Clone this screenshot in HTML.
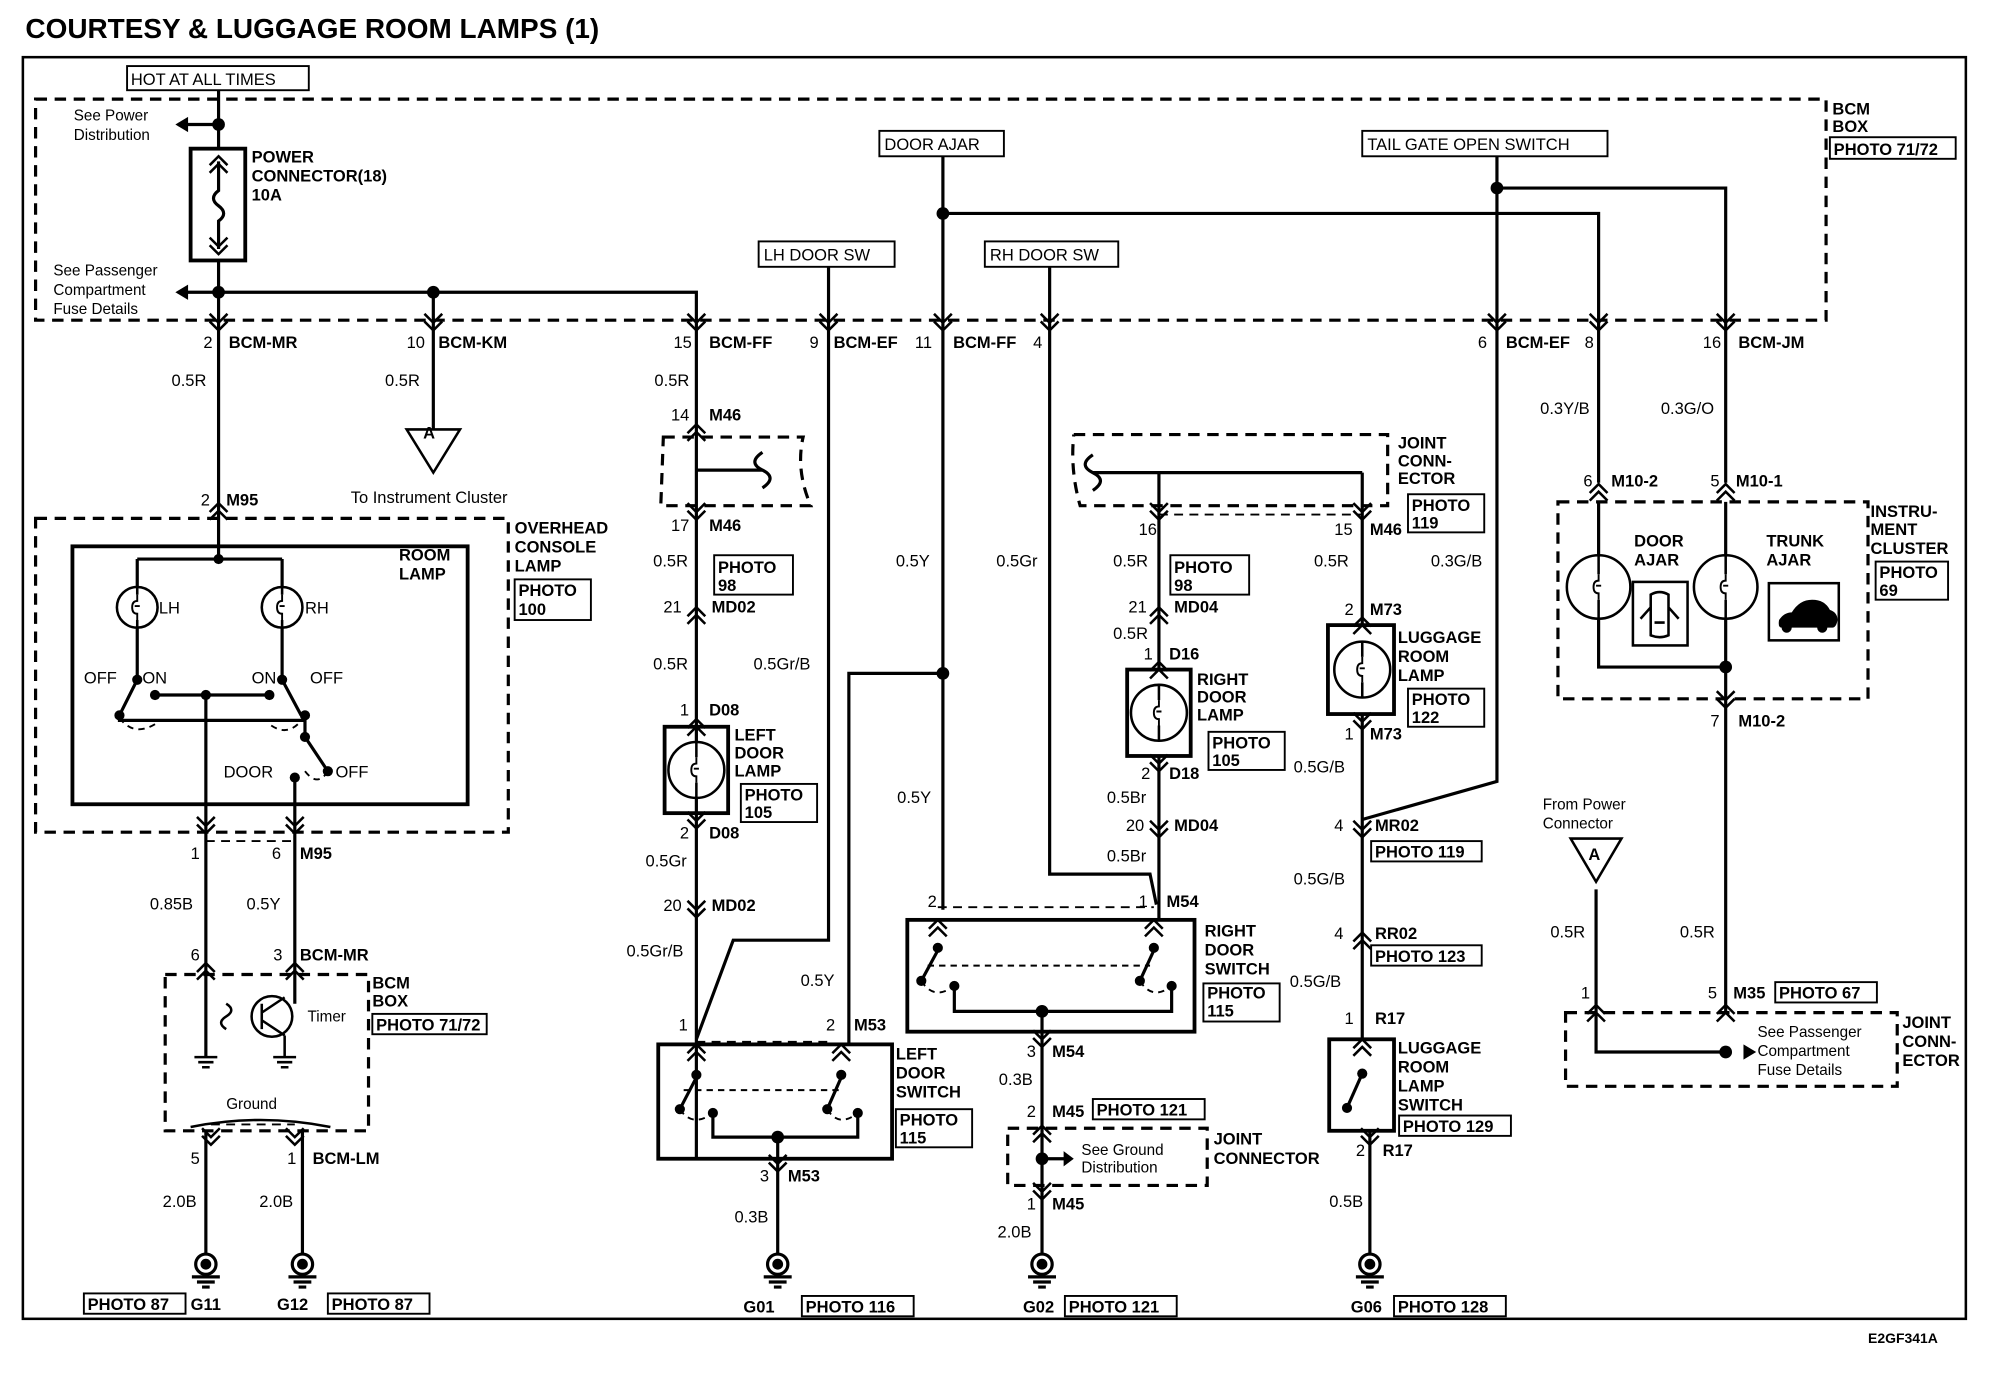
<!DOCTYPE html>
<html><head><meta charset="utf-8"><style>
html,body{margin:0;padding:0;background:#fff}
svg{display:block}
text{font-family:"Liberation Sans",Arial,sans-serif;fill:#000}
.b{font-weight:bold;font-size:13px}
.n{font-size:13px}
</style></head><body>
<svg width="1990" height="1376" viewBox="0 0 1566 1083" preserveAspectRatio="none" xmlns="http://www.w3.org/2000/svg">
<defs>
<g id="cd" fill="none" stroke="#000" stroke-width="2"><path d="M-7,-9 L0,-2 L7,-9 M-7,-3 L0,4 L7,-3"/></g>
<g id="cu" fill="none" stroke="#000" stroke-width="2"><path d="M-7,9 L0,2 L7,9 M-7,3 L0,-4 L7,3"/></g>
<g id="gnd" fill="none" stroke="#000" stroke-width="2.5"><circle cx="0" cy="0" r="8"/><circle cx="0" cy="0" r="3" fill="#000"/><path d="M-11,10 H11 M-7,14 H7 M-3,18 H3"/></g>
<g id="sg" fill="none" stroke="#000" stroke-width="2"><path d="M-9,0 H9 M-6,4 H6 M-3,8 H3"/></g>
<g id="fil" fill="none" stroke="#000" stroke-width="1.5"><path d="M0,-10 V-5 q-4,0 -4,5 q0,5 4,5 V10 M-2,-1 h4"/></g>
</defs>
<text x="20" y="30" font-size="22" font-weight="bold">COURTESY &amp; LUGGAGE ROOM LAMPS (1)</text>
<rect x="18" y="45" width="1529" height="993" fill="none" stroke="#000" stroke-width="2"/>
<text x="1470" y="1057" font-size="11" font-weight="bold">E2GF341A</text>

<g fill="none" stroke="#000" stroke-width="2.5" stroke-dasharray="9,6">
<path d="M28,78 H1437 V252 H28 Z"/>
<rect x="28" y="408" width="372" height="247"/>
<rect x="130" y="767" width="160" height="123"/>
<path d="M522,344 H632 Q626,370 638,398 H520 Z"/>
<path d="M845,342 H1092 V398 H850 Q842,370 845,342"/>
<rect x="1226" y="395" width="244" height="155"/>
<rect x="1232" y="797" width="261" height="58"/>
<rect x="793" y="888" width="157" height="45"/>
</g>
<g fill="none" stroke="#000" stroke-width="1.5" stroke-dasharray="7,5">
<path d="M162,662 H232 M548,820 H652 M738,714 H908 M912,405 H1072 M166,885 H232"/>
</g>
<g fill="none" stroke="#000" stroke-width="1.5">
<rect x="100" y="52" width="143" height="19"/>
<rect x="692" y="103" width="98" height="20"/>
<rect x="1072" y="103" width="193" height="20"/>
<rect x="597" y="190" width="107" height="20"/>
<rect x="775" y="190" width="105" height="20"/>
<rect x="1440" y="108" width="99" height="17"/>
<rect x="405" y="456" width="60" height="32"/>
<rect x="562" y="437" width="62" height="31"/>
<rect x="583" y="617" width="60" height="30"/>
<rect x="921" y="437" width="62" height="31"/>
<rect x="951" y="576" width="60" height="30"/>
<rect x="1108" y="389" width="60" height="30"/>
<rect x="1108" y="542" width="60" height="30"/>
<rect x="1476" y="442" width="57" height="30"/>
<rect x="1079" y="662" width="87" height="16"/>
<rect x="1079" y="744" width="87" height="16"/>
<rect x="1397" y="773" width="80" height="16"/>
<rect x="293" y="798" width="90" height="16"/>
<rect x="860" y="865" width="88" height="16"/>
<rect x="705" y="873" width="60" height="30"/>
<rect x="947" y="774" width="60" height="30"/>
<rect x="1101" y="878" width="88" height="16"/>
<rect x="66" y="1018" width="80" height="16"/>
<rect x="258" y="1018" width="80" height="16"/>
<rect x="631" y="1020" width="88" height="16"/>
<rect x="838" y="1020" width="88" height="16"/>
<rect x="1097" y="1020" width="88" height="16"/>
</g>
<g fill="none" stroke="#000" stroke-width="3">
<rect x="150" y="117" width="43" height="88"/>
<rect x="57" y="430" width="311" height="203"/>
<rect x="523" y="572" width="50" height="68"/>
<rect x="887" y="527" width="50" height="68"/>
<rect x="1045" y="492" width="52" height="70"/>
<rect x="518" y="822" width="184" height="90"/>
<rect x="714" y="724" width="226" height="88"/>
<rect x="1046" y="818" width="51" height="72"/>
<rect x="1285" y="458" width="43" height="50" stroke-width="2"/>
<rect x="1392" y="459" width="55" height="45" stroke-width="2"/>
</g>
<g fill="none" stroke="#000" stroke-width="2.5">
<path d="M172,71 V117 M172,205 V430 M140,98 H172 M140,230 H548 V822 M341,230 V338"/>
<path d="M172,127 V150 q-8,6 0,12 q8,6 0,12 V196"/>
<path d="M548,370 H600 M600,356 q-12,8 0,14 q12,6 0,14"/>
<path d="M860,358 q-12,8 0,14 q12,6 0,14 M860,372 H1072"/>
<path d="M172,430 V440 M108,440 H222 M108,440 V535 L94,563 M222,440 V535 L237,563 M122,547 H212 M162,547 V660 M94,563 V567 H240 V563 M240,567 V580 L258,607 M232,612 V660"/>
<path d="M162,660 V767 M232,660 V767 M162,767 V832 M232,767 V790 M162,890 V987 M238,890 V987"/>
<path d="M652,210 V740 H577 L548,818 M668,822 V530 H742 M742,123 V716 M742,168 H1258 V380 M1178,123 V148 H1358 V380 M1178,148 V615 L1072,645"/>
<path d="M826,210 V688 H905 L910,712 M912,372 V527 M1072,372 V492"/>
<path d="M912,595 V724"/>
<path d="M548,912 V822 M612,912 V987 M820,812 V987 M1072,562 V818 M1078,890 V987"/>
<path d="M1258,395 V525 H1358 M1358,395 V797 M1256,700 V828 H1358"/>
<path d="M548,848 L535,873 M662,848 L651,873 M561,876 V895 H675 V876 M612,895 V912"/>
<path d="M738,748 L725,772 M908,748 L897,772 M751,776 V796 H922 V776 M820,796 V812"/>
<path d="M1072,845 L1060,872"/>
<path d="M820,912 H842"/>
</g>
<g fill="none" stroke="#000" stroke-width="1.5" stroke-dasharray="5,4">
<path d="M94,565 Q105,580 122,570 M240,563 Q228,582 212,570 M240,607 Q250,620 258,607 M535,873 Q545,888 561,876 M651,873 Q660,888 675,876 M725,772 Q735,788 751,776 M897,772 Q907,788 922,776 M538,858 H660 M730,760 H905"/>
</g>
<g fill="#fff" stroke="#000" stroke-width="2">
<circle cx="108" cy="478" r="16"/><circle cx="222" cy="478" r="16"/>
<circle cx="548" cy="606" r="22"/><circle cx="912" cy="561" r="22"/><circle cx="1072" cy="527" r="22"/>
<circle cx="1258" cy="462" r="25"/><circle cx="1358" cy="462" r="25"/>
</g>
<use href="#fil" x="108" y="478"/><use href="#fil" x="222" y="478"/><use href="#fil" x="548" y="606"/><use href="#fil" x="912" y="561"/><use href="#fil" x="1072" y="527"/><use href="#fil" x="1258" y="462"/><use href="#fil" x="1358" y="462"/>
<g fill="none" stroke="#000" stroke-width="2">
<path d="M548,584 V596 M548,616 V628 M912,539 V551 M912,571 V583 M1072,505 V517 M1072,537 V549 M108,462 V468 M108,488 V494 M222,462 V468 M222,488 V494 M1258,437 V452 M1258,472 V487 M1358,437 V452 M1358,472 V487"/>
<circle cx="214" cy="800" r="16"/>
<path d="M178,790 q8,5 0,10 q-8,5 0,10 M206,790 V810 M206,797 L224,785 M206,803 L224,815 M224,815 V832"/>
<path d="M150,887 Q205,876 260,887"/>
<path d="M320,338 H362 L341,372 Z M1236,660 H1276 L1256,694 Z"/>
</g>
<g fill="#000">
<circle cx="172" cy="98" r="5"/><circle cx="172" cy="230" r="5"/><circle cx="341" cy="230" r="5"/>
<circle cx="742" cy="168" r="5"/><circle cx="1178" cy="148" r="5"/><circle cx="742" cy="530" r="5"/>
<circle cx="172" cy="440" r="4"/><circle cx="108" cy="535" r="4"/><circle cx="222" cy="535" r="4"/><circle cx="94" cy="563" r="4"/><circle cx="122" cy="547" r="4"/><circle cx="162" cy="547" r="4"/><circle cx="212" cy="547" r="4"/><circle cx="240" cy="563" r="4"/><circle cx="240" cy="580" r="4"/><circle cx="258" cy="607" r="4"/><circle cx="232" cy="612" r="4"/>
<circle cx="548" cy="846" r="4"/><circle cx="662" cy="846" r="4"/><circle cx="535" cy="873" r="4"/><circle cx="561" cy="876" r="4"/><circle cx="651" cy="873" r="4"/><circle cx="675" cy="876" r="4"/><circle cx="612" cy="895" r="5"/>
<circle cx="738" cy="746" r="4"/><circle cx="908" cy="746" r="4"/><circle cx="725" cy="772" r="4"/><circle cx="751" cy="776" r="4"/><circle cx="897" cy="772" r="4"/><circle cx="922" cy="776" r="4"/><circle cx="820" cy="796" r="5"/>
<circle cx="1072" cy="845" r="4"/><circle cx="1060" cy="872" r="4"/><circle cx="1358" cy="525" r="5"/><circle cx="1358" cy="828" r="5"/><circle cx="820" cy="912" r="5"/>
<path d="M138,98 l10,-6 v12 Z M138,230 l10,-6 v12 Z M1382,828 l-10,-6 v12 Z M845,912 l-8,-6 v12 Z"/>
<path d="M1400,488 q4,-6 10,-6 q6,-10 16,-10 q10,0 14,8 q6,2 6,8 q-1,6 -4,6 h-4 a4,4 0 0 1 -8,0 h-20 a4,4 0 0 1 -8,0 q-3,0 -2,-6Z"/>
</g>
<path d="M1299,468 q7,-4 14,0 v32 q-7,3 -14,0 Z M1299,478 l-8,9 M1313,478 l8,9 M1302,490 h8" fill="none" stroke="#000" stroke-width="2"/>
<use href="#sg" x="162" y="832"/><use href="#sg" x="224" y="832"/>
<g>
<use href="#cu" x="172" y="127"/><use href="#cd" x="172" y="196"/>
<use href="#cd" x="172" y="256"/><use href="#cd" x="341" y="256"/><use href="#cd" x="548" y="256"/><use href="#cd" x="652" y="256"/><use href="#cd" x="742" y="256"/><use href="#cd" x="826" y="256"/><use href="#cd" x="1178" y="256"/><use href="#cd" x="1258" y="256"/><use href="#cd" x="1358" y="256"/>
<use href="#cu" x="172" y="400"/><use href="#cd" x="162" y="652"/><use href="#cd" x="232" y="652"/><use href="#cu" x="162" y="762"/><use href="#cu" x="232" y="762"/>
<use href="#cd" x="166" y="897"/><use href="#cd" x="232" y="897"/>
<use href="#cu" x="548" y="338"/><use href="#cd" x="548" y="405"/><use href="#cu" x="548" y="482"/><use href="#cu" x="548" y="570"/><use href="#cd" x="548" y="648"/><use href="#cd" x="548" y="718"/><use href="#cu" x="548" y="826"/><use href="#cu" x="662" y="826"/><use href="#cd" x="612" y="918"/>
<use href="#cd" x="912" y="405"/><use href="#cd" x="1072" y="405"/><use href="#cu" x="912" y="482"/><use href="#cu" x="912" y="525"/><use href="#cd" x="912" y="603"/><use href="#cd" x="912" y="655"/><use href="#cu" x="738" y="728"/><use href="#cu" x="908" y="728"/><use href="#cd" x="820" y="820"/><use href="#cu" x="820" y="890"/><use href="#cd" x="820" y="940"/>
<use href="#cu" x="1072" y="490"/><use href="#cd" x="1072" y="570"/><use href="#cd" x="1072" y="655"/><use href="#cu" x="1072" y="738"/><use href="#cu" x="1072" y="822"/><use href="#cd" x="1078" y="897"/>
<use href="#cu" x="1258" y="385"/><use href="#cu" x="1358" y="385"/><use href="#cd" x="1358" y="553"/><use href="#cu" x="1256" y="795"/><use href="#cu" x="1358" y="795"/>
</g>
<use href="#gnd" x="162" y="995"/><use href="#gnd" x="238" y="995"/><use href="#gnd" x="612" y="995"/><use href="#gnd" x="820" y="995"/><use href="#gnd" x="1078" y="995"/>
<g class="n">
<text x="103" y="67">HOT AT ALL TIMES</text>
<text x="696" y="118">DOOR AJAR</text>
<text x="1076" y="118">TAIL GATE OPEN SWITCH</text>
<text x="601" y="205">LH DOOR SW</text>
<text x="779" y="205">RH DOOR SW</text>
<text x="58" y="95" font-size="12">See Power</text><text x="58" y="110" font-size="12">Distribution</text>
<text x="42" y="217" font-size="12">See Passenger</text><text x="42" y="232" font-size="12">Compartment</text><text x="42" y="247" font-size="12">Fuse Details</text>
<text x="276" y="396">To Instrument Cluster</text>
<text x="1214" y="637" font-size="12">From Power</text><text x="1214" y="652" font-size="12">Connector</text>
<text x="1383" y="816" font-size="12">See Passenger</text><text x="1383" y="831" font-size="12">Compartment</text><text x="1383" y="846" font-size="12">Fuse Details</text>
<text x="851" y="909" font-size="12">See Ground</text><text x="851" y="923" font-size="12">Distribution</text>
<text x="242" y="804" font-size="12">Timer</text><text x="178" y="873" font-size="12">Ground</text>
<text x="125" y="483">LH</text><text x="240" y="483">RH</text>
<text x="66" y="538">OFF</text><text x="112" y="538">ON</text><text x="198" y="538">ON</text><text x="244" y="538">OFF</text>
<text x="176" y="612">DOOR</text><text x="264" y="612">OFF</text>
<text x="333" y="345" font-weight="bold">A</text><text x="1250" y="677" font-weight="bold">A</text>
<text x="135" y="304">0.5R</text><text x="303" y="304">0.5R</text><text x="515" y="304">0.5R</text>
<text x="514" y="446">0.5R</text><text x="514" y="527">0.5R</text><text x="593" y="527">0.5Gr/B</text>
<text x="705" y="446">0.5Y</text><text x="784" y="446">0.5Gr</text><text x="876" y="446">0.5R</text><text x="1034" y="446">0.5R</text><text x="1126" y="446">0.3G/B</text>
<text x="1212" y="326">0.3Y/B</text><text x="1307" y="326">0.3G/O</text>
<text x="876" y="503">0.5R</text><text x="706" y="632">0.5Y</text><text x="508" y="682">0.5Gr</text><text x="493" y="753">0.5Gr/B</text><text x="630" y="776">0.5Y</text>
<text x="871" y="632">0.5Br</text><text x="871" y="678">0.5Br</text><text x="1018" y="608">0.5G/B</text><text x="1018" y="696">0.5G/B</text><text x="1015" y="777">0.5G/B</text>
<text x="786" y="854">0.3B</text><text x="785" y="974">2.0B</text><text x="578" y="962">0.3B</text><text x="1046" y="950">0.5B</text>
<text x="118" y="716">0.85B</text><text x="194" y="716">0.5Y</text><text x="128" y="950">2.0B</text><text x="204" y="950">2.0B</text>
<text x="1220" y="738">0.5R</text><text x="1322" y="738">0.5R</text>
<text x="160" y="274">2</text><text x="320" y="274">10</text><text x="530" y="274">15</text><text x="637" y="274">9</text><text x="720" y="274">11</text><text x="813" y="274">4</text><text x="1163" y="274">6</text><text x="1247" y="274">8</text><text x="1340" y="274">16</text>
<text x="158" y="398">2</text><text x="528" y="331">14</text><text x="528" y="418">17</text><text x="522" y="482">21</text><text x="535" y="563">1</text><text x="535" y="660">2</text><text x="522" y="717">20</text>
<text x="150" y="676">1</text><text x="214" y="676">6</text><text x="150" y="756">6</text><text x="215" y="756">3</text><text x="150" y="916">5</text><text x="226" y="916">1</text>
<text x="534" y="811">1</text><text x="650" y="811">2</text><text x="598" y="930">3</text>
<text x="896" y="421">16</text><text x="1050" y="421">15</text><text x="888" y="482">21</text><text x="900" y="519">1</text><text x="898" y="613">2</text><text x="886" y="654">20</text><text x="730" y="714">2</text><text x="896" y="714">1</text>
<text x="808" y="832">3</text><text x="808" y="879">2</text><text x="808" y="952">1</text>
<text x="1058" y="484">2</text><text x="1058" y="582">1</text><text x="1050" y="654">4</text><text x="1050" y="739">4</text><text x="1058" y="806">1</text><text x="1067" y="910">2</text>
<text x="1246" y="383">6</text><text x="1346" y="383">5</text><text x="1346" y="572">7</text><text x="1244" y="786">1</text><text x="1344" y="786">5</text>
</g>
<g class="b">
<text x="198" y="128">POWER</text><text x="198" y="143">CONNECTOR(18)</text><text x="198" y="158">10A</text>
<text x="1442" y="90">BCM</text><text x="1442" y="104">BOX</text><text x="1443" y="122">PHOTO 71/72</text>
<text x="180" y="274">BCM-MR</text><text x="345" y="274">BCM-KM</text><text x="558" y="274">BCM-FF</text><text x="656" y="274">BCM-EF</text><text x="750" y="274">BCM-FF</text><text x="1185" y="274">BCM-EF</text><text x="1368" y="274">BCM-JM</text>
<text x="178" y="398">M95</text><text x="405" y="420">OVERHEAD</text><text x="405" y="435">CONSOLE</text><text x="405" y="450">LAMP</text><text x="408" y="469">PHOTO</text><text x="408" y="484">100</text>
<text x="314" y="441">ROOM</text><text x="314" y="456">LAMP</text>
<text x="236" y="676">M95</text><text x="236" y="756">BCM-MR</text><text x="293" y="778">BCM</text><text x="293" y="792">BOX</text><text x="296" y="811">PHOTO 71/72</text>
<text x="246" y="916">BCM-LM</text><text x="69" y="1031">PHOTO 87</text><text x="150" y="1031">G11</text><text x="218" y="1031">G12</text><text x="261" y="1031">PHOTO 87</text>
<text x="558" y="331">M46</text><text x="558" y="418">M46</text><text x="565" y="451">PHOTO</text><text x="565" y="465">98</text><text x="560" y="482">MD02</text>
<text x="558" y="563">D08</text><text x="578" y="583">LEFT</text><text x="578" y="597">DOOR</text><text x="578" y="611">LAMP</text><text x="586" y="630">PHOTO</text><text x="586" y="644">105</text>
<text x="558" y="660">D08</text><text x="560" y="717">MD02</text><text x="672" y="811">M53</text>
<text x="705" y="834">LEFT</text><text x="705" y="849">DOOR</text><text x="705" y="864">SWITCH</text><text x="708" y="886">PHOTO</text><text x="708" y="900">115</text>
<text x="620" y="930">M53</text><text x="585" y="1033">G01</text><text x="634" y="1033">PHOTO 116</text>
<text x="1100" y="353">JOINT</text><text x="1100" y="367">CONN-</text><text x="1100" y="381">ECTOR</text><text x="1111" y="402">PHOTO</text><text x="1111" y="416">119</text>
<text x="1078" y="421">M46</text><text x="924" y="451">PHOTO</text><text x="924" y="465">98</text><text x="924" y="482">MD04</text><text x="920" y="519">D16</text>
<text x="942" y="539">RIGHT</text><text x="942" y="553">DOOR</text><text x="942" y="567">LAMP</text><text x="954" y="589">PHOTO</text><text x="954" y="603">105</text>
<text x="920" y="613">D18</text><text x="924" y="654">MD04</text><text x="918" y="714">M54</text>
<text x="948" y="737">RIGHT</text><text x="948" y="752">DOOR</text><text x="948" y="767">SWITCH</text><text x="950" y="786">PHOTO</text><text x="950" y="800">115</text>
<text x="828" y="832">M54</text><text x="828" y="879">M45</text><text x="863" y="878">PHOTO 121</text>
<text x="955" y="901">JOINT</text><text x="955" y="916">CONNECTOR</text><text x="828" y="952">M45</text><text x="805" y="1033">G02</text><text x="841" y="1033">PHOTO 121</text>
<text x="1078" y="484">M73</text><text x="1100" y="506">LUGGAGE</text><text x="1100" y="521">ROOM</text><text x="1100" y="536">LAMP</text><text x="1111" y="555">PHOTO</text><text x="1111" y="569">122</text>
<text x="1078" y="582">M73</text><text x="1082" y="654">MR02</text><text x="1082" y="675">PHOTO 119</text><text x="1082" y="739">RR02</text><text x="1082" y="757">PHOTO 123</text>
<text x="1082" y="806">R17</text><text x="1100" y="829">LUGGAGE</text><text x="1100" y="844">ROOM</text><text x="1100" y="859">LAMP</text><text x="1100" y="874">SWITCH</text><text x="1104" y="891">PHOTO 129</text>
<text x="1088" y="910">R17</text><text x="1063" y="1033">G06</text><text x="1100" y="1033">PHOTO 128</text>
<text x="1268" y="383">M10-2</text><text x="1366" y="383">M10-1</text><text x="1286" y="430">DOOR</text><text x="1286" y="445">AJAR</text><text x="1390" y="430">TRUNK</text><text x="1390" y="445">AJAR</text>
<text x="1472" y="407">INSTRU-</text><text x="1472" y="421">MENT</text><text x="1472" y="436">CLUSTER</text><text x="1479" y="455">PHOTO</text><text x="1479" y="469">69</text>
<text x="1368" y="572">M10-2</text><text x="1364" y="786">M35</text><text x="1400" y="786">PHOTO 67</text>
<text x="1497" y="809">JOINT</text><text x="1497" y="824">CONN-</text><text x="1497" y="839">ECTOR</text>
</g>
</svg>
</body></html>
